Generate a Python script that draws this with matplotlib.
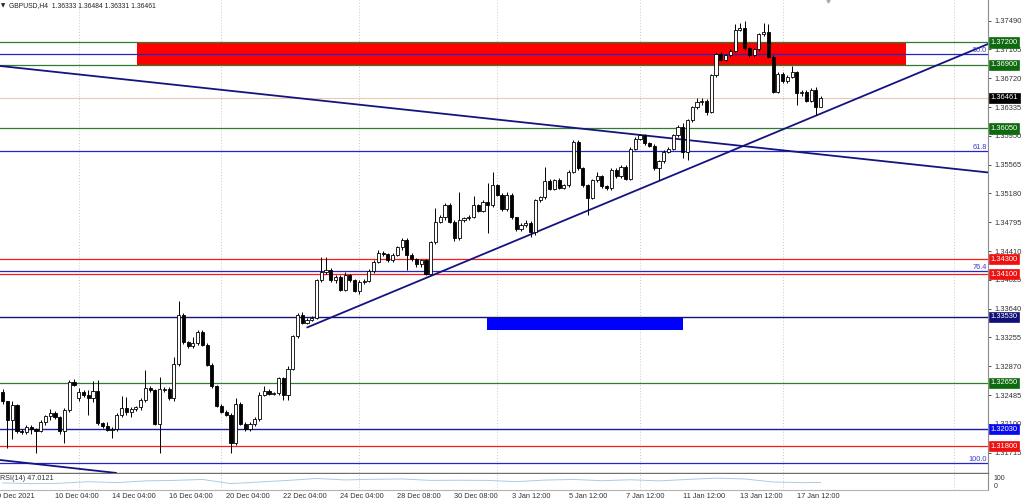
import numpy as np
import matplotlib
matplotlib.use("Agg")
import matplotlib.pyplot as plt
from matplotlib.patches import Rectangle

plt.rcParams['font.family'] = ['Liberation Sans', 'DejaVu Sans']

# GBPUSD H4 bars, first visible bar is index -11 (bar 0 = 10 Dec 04:00)
first_bar = -11
opens = [1.3252, 1.3240, 1.3215, 1.3235, 1.3200, 1.3199, 1.3206, 1.3203, 1.3201, 1.3212,
         1.3220, 1.3225, 1.3219, 1.3200, 1.3229, 1.3266, 1.3245, 1.3253, 1.3248, 1.3245,
         1.3254, 1.3211, 1.3207, 1.3202, 1.3203, 1.3222, 1.3231, 1.3226, 1.3230, 1.3232,
         1.3242, 1.3258, 1.3255, 1.3210, 1.3255, 1.3257, 1.3244, 1.3290, 1.3356, 1.3319,
         1.3314, 1.3318, 1.3333, 1.3316, 1.3289, 1.3260, 1.3234, 1.3226, 1.3222, 1.3184,
         1.3237, 1.3210, 1.3203, 1.3210, 1.3217, 1.3249, 1.3254, 1.3250, 1.3251, 1.3271,
         1.3249, 1.3284, 1.3327, 1.3356, 1.3345, 1.3349, 1.3352, 1.3402, 1.3413, 1.3416,
         1.3402, 1.3406, 1.3389, 1.3409, 1.3402, 1.3388, 1.3400, 1.3401, 1.3414, 1.3427,
         1.3438, 1.3437, 1.3429, 1.3436, 1.3446, 1.3456, 1.3436, 1.3430, 1.3424, 1.3429,
         1.3411, 1.3453, 1.3480, 1.3487, 1.3503, 1.3480, 1.3458, 1.3483, 1.3485, 1.3487,
         1.3502, 1.3495, 1.3507, 1.3502, 1.3529, 1.3516, 1.3497, 1.3516, 1.3486, 1.3470,
         1.3476, 1.3479, 1.3467, 1.3509, 1.3513, 1.3535, 1.3524, 1.3536, 1.3526, 1.3529,
         1.3547, 1.3587, 1.3552, 1.3529, 1.3512, 1.3536, 1.3541, 1.3528, 1.3525, 1.3550,
         1.3541, 1.3554, 1.3538, 1.3578, 1.3591, 1.3596, 1.3585, 1.3582, 1.3552, 1.3561,
         1.3574, 1.3578, 1.3596, 1.3607, 1.3573, 1.3616, 1.3633, 1.3640, 1.3642, 1.3627,
         1.3676, 1.3705, 1.3697, 1.3703, 1.3709, 1.3737, 1.3739, 1.3712, 1.3703, 1.3711,
         1.3731, 1.3734, 1.3701, 1.3654, 1.3678, 1.3668, 1.3674, 1.3680, 1.3652, 1.3654,
         1.3642, 1.3657, 1.36333]
highs = [1.3256, 1.3241, 1.3240, 1.3237, 1.3203, 1.3209, 1.3208, 1.3205, 1.3215, 1.3222,
         1.3230, 1.3227, 1.3221, 1.3231, 1.3269, 1.3270, 1.3258, 1.3255, 1.3255, 1.3267,
         1.3269, 1.3213, 1.3213, 1.3206, 1.3224, 1.3247, 1.3246, 1.3233, 1.3234, 1.3244,
         1.3282, 1.3261, 1.3257, 1.3273, 1.3259, 1.3259, 1.3300, 1.3374, 1.3358, 1.3321,
         1.3326, 1.3336, 1.3336, 1.3318, 1.3291, 1.3262, 1.3237, 1.3228, 1.3224, 1.3244,
         1.3239, 1.3212, 1.3212, 1.3219, 1.3252, 1.3260, 1.3256, 1.3253, 1.3273, 1.3273,
         1.3287, 1.3329, 1.3358, 1.3359, 1.3351, 1.3354, 1.3404, 1.3433, 1.3433, 1.3419,
         1.3409, 1.3409, 1.3413, 1.3411, 1.3404, 1.3403, 1.3404, 1.3417, 1.3429, 1.3442,
         1.3441, 1.3439, 1.3438, 1.3448, 1.3459, 1.3458, 1.3438, 1.3432, 1.3431, 1.3431,
         1.3455, 1.3498, 1.3489, 1.3505, 1.3505, 1.3482, 1.3520, 1.3487, 1.3489, 1.3514,
         1.3504, 1.3509, 1.3532, 1.3547, 1.3531, 1.3518, 1.3520, 1.3518, 1.3487, 1.3478,
         1.3482, 1.3481, 1.3511, 1.3515, 1.3554, 1.3538, 1.3538, 1.3539, 1.3531, 1.3549,
         1.3590, 1.3589, 1.3554, 1.3531, 1.3538, 1.3547, 1.3543, 1.3530, 1.3552, 1.3552,
         1.3556, 1.3556, 1.3580, 1.3593, 1.3598, 1.3598, 1.3587, 1.3584, 1.3563, 1.3576,
         1.3580, 1.3598, 1.3609, 1.3612, 1.3618, 1.3635, 1.3646, 1.3645, 1.3644, 1.3678,
         1.3707, 1.3707, 1.3705, 1.3711, 1.3745, 1.3746, 1.3748, 1.3714, 1.3713, 1.3733,
         1.3746, 1.3745, 1.3703, 1.3680, 1.3680, 1.3676, 1.3688, 1.3682, 1.3656, 1.3656,
         1.3659, 1.3660, 1.36484]
lows = [1.3237, 1.3178, 1.3190, 1.3198, 1.3196, 1.3196, 1.3197, 1.3171, 1.3199, 1.3209,
        1.3215, 1.3216, 1.3196, 1.3184, 1.3226, 1.3260, 1.3240, 1.3246, 1.3222, 1.3239,
        1.3209, 1.3205, 1.3200, 1.3191, 1.3201, 1.3219, 1.3222, 1.3219, 1.3227, 1.3229,
        1.3239, 1.3253, 1.3208, 1.3171, 1.3253, 1.3242, 1.3240, 1.3288, 1.3317, 1.3312,
        1.3312, 1.3316, 1.3314, 1.3287, 1.3258, 1.3232, 1.3224, 1.3220, 1.3171, 1.3182,
        1.3208, 1.3200, 1.3201, 1.3207, 1.3214, 1.3247, 1.3248, 1.3248, 1.3249, 1.3242,
        1.3242, 1.3282, 1.3325, 1.3343, 1.3343, 1.3347, 1.3350, 1.3400, 1.3411, 1.3400,
        1.3398, 1.3387, 1.3387, 1.3400, 1.3386, 1.3384, 1.3397, 1.3399, 1.3412, 1.3425,
        1.3434, 1.3427, 1.3427, 1.3434, 1.3443, 1.3416, 1.3428, 1.3420, 1.3420, 1.3409,
        1.3409, 1.3451, 1.3478, 1.3483, 1.3478, 1.3455, 1.3456, 1.3480, 1.3483, 1.3485,
        1.3493, 1.3493, 1.3465, 1.3500, 1.3514, 1.3495, 1.3495, 1.3484, 1.3468, 1.3468,
        1.3473, 1.3460, 1.3462, 1.3507, 1.3510, 1.3522, 1.3523, 1.3524, 1.3524, 1.3527,
        1.3545, 1.3550, 1.3527, 1.3489, 1.3510, 1.3534, 1.3526, 1.3523, 1.3523, 1.3539,
        1.3539, 1.3536, 1.3536, 1.3576, 1.3589, 1.3583, 1.3580, 1.3550, 1.3536, 1.3559,
        1.3572, 1.3576, 1.3594, 1.3565, 1.3563, 1.3614, 1.3631, 1.3636, 1.3623, 1.3625,
        1.3674, 1.3695, 1.3695, 1.3701, 1.3707, 1.3735, 1.3710, 1.3701, 1.3701, 1.3709,
        1.3729, 1.3699, 1.3652, 1.3652, 1.3666, 1.3666, 1.3672, 1.3636, 1.3648, 1.3640,
        1.3640, 1.3623, 1.36331]
closes = [1.3240, 1.3215, 1.3235, 1.3200, 1.3199, 1.3206, 1.3203, 1.3201, 1.3212, 1.3220,
          1.3225, 1.3219, 1.3200, 1.3229, 1.3266, 1.3262, 1.3253, 1.3248, 1.3245, 1.3254,
          1.3211, 1.3207, 1.3202, 1.3203, 1.3222, 1.3231, 1.3226, 1.3230, 1.3232, 1.3242,
          1.3258, 1.3255, 1.3210, 1.3257, 1.3257, 1.3244, 1.3290, 1.3356, 1.3319, 1.3314,
          1.3318, 1.3333, 1.3316, 1.3289, 1.3260, 1.3234, 1.3226, 1.3222, 1.3184, 1.3237,
          1.3210, 1.3203, 1.3210, 1.3217, 1.3249, 1.3254, 1.3250, 1.3251, 1.3271, 1.3249,
          1.3284, 1.3327, 1.3356, 1.3345, 1.3349, 1.3352, 1.3402, 1.3413, 1.3416, 1.3402,
          1.3406, 1.3389, 1.3409, 1.3402, 1.3388, 1.3400, 1.3401, 1.3414, 1.3427, 1.3438,
          1.3437, 1.3429, 1.3436, 1.3446, 1.3456, 1.3436, 1.3430, 1.3424, 1.3429, 1.3411,
          1.3453, 1.3480, 1.3487, 1.3503, 1.3480, 1.3458, 1.3483, 1.3485, 1.3487, 1.3502,
          1.3495, 1.3507, 1.3502, 1.3529, 1.3516, 1.3497, 1.3516, 1.3486, 1.3470, 1.3476,
          1.3479, 1.3467, 1.3509, 1.3513, 1.3535, 1.3524, 1.3536, 1.3526, 1.3529, 1.3547,
          1.3587, 1.3552, 1.3529, 1.3512, 1.3536, 1.3541, 1.3528, 1.3525, 1.3550, 1.3541,
          1.3554, 1.3538, 1.3578, 1.3591, 1.3596, 1.3585, 1.3582, 1.3552, 1.3561, 1.3574,
          1.3578, 1.3596, 1.3607, 1.3573, 1.3616, 1.3633, 1.3640, 1.3642, 1.3627, 1.3676,
          1.3705, 1.3697, 1.3703, 1.3709, 1.3737, 1.3739, 1.3712, 1.3703, 1.3711, 1.3731,
          1.3734, 1.3701, 1.3654, 1.3678, 1.3668, 1.3674, 1.3680, 1.3652, 1.3654, 1.3642,
          1.3657, 1.3634, 1.36461]

# RSI(14) sub window, read every 6 bars
rsi_bars = [-11, -5, 1, 7, 13, 19, 25, 31, 37, 43, 49, 55, 61, 67, 73,
            79, 85, 91, 97, 103, 109, 115, 121, 127, 133, 139, 145, 151, 157, 161]
rsi_values = [44, 40, 42, 52, 46, 57, 60, 66, 40, 50, 60, 72, 63, 67, 69,
              60, 61, 60, 52, 62, 66, 58, 64, 57, 66, 74, 69, 50, 46, 47]

price_ticks = [1.37490, 1.37105, 1.36720, 1.36335, 1.35950, 1.35565, 1.35180, 1.34795,
               1.34410, 1.34025, 1.33640, 1.33255, 1.32870, 1.32485, 1.32100, 1.31715]

time_labels = ["9 Dec 2021", "10 Dec 04:00", "14 Dec 04:00", "16 Dec 04:00", "20 Dec 04:00",
               "22 Dec 04:00", "24 Dec 04:00", "28 Dec 08:00", "30 Dec 08:00", "3 Jan 12:00",
               "5 Jan 12:00", "7 Jan 12:00", "11 Jan 12:00", "13 Jan 12:00", "17 Jan 12:00"]
time_label_bars = [-12.2, 0, 12, 24, 36, 48, 60, 72, 84, 96, 108, 120, 132, 144, 156]
grid_bars = [5, 35, 64, 93, 123, 153, 189]

# drawn objects
green_levels = [1.37200, 1.36900, 1.36050, 1.32650]
red_levels = [1.34300, 1.34100, 1.31800]
navy_level = 1.33530
blue_level = 1.32030
fib_names = ["50.0", "61.8", "76.4", "100.0"]
fib_prices = [1.37041, 1.35748, 1.34144, 1.31573]
red_zone = (17.2, 178.9, 1.36900, 1.37200)
blue_zone = (90.8, 132.0, 1.33350, 1.33530)
trend_up = ([52.9, 196.2], [1.33386, 1.37179])
trend_down = ([-11.56, 196.2], [1.36885, 1.35461])
trend_old = ([-11.56, 13.0], [1.31617, 1.31443])

bars = np.arange(first_bar, first_bar + len(closes))
o = np.array(opens); h = np.array(highs); l = np.array(lows); c = np.array(closes)

fig = plt.figure(figsize=(10.24, 5.0), dpi=100)
ax = fig.add_axes([0, 27 / 500, 988 / 1024, 473 / 500])
ax_rsi = fig.add_axes([0, 10 / 500, 988 / 1024, 16 / 500])

xmin, xmax = -11.56, 196.18
ax.set_xlim(xmin, xmax)
ax.set_ylim(1.314432, 1.377667)
ax_rsi.set_xlim(xmin, xmax)
ax_rsi.set_ylim(0, 100)

for gx in grid_bars:
    ax.axvline(gx, color='#C8C8C8', lw=0.7, ls=(0, (1, 2)), zorder=0)
    ax_rsi.axvline(gx, color='#C8C8C8', lw=0.7, ls=(0, (1, 2)), zorder=0)

# zones (background)
ax.add_patch(Rectangle((red_zone[0], red_zone[2]), red_zone[1] - red_zone[0],
                       red_zone[3] - red_zone[2], fc='#FF0000', ec='none', zorder=1))
ax.add_patch(Rectangle((blue_zone[0], blue_zone[2]), blue_zone[1] - blue_zone[0],
                       blue_zone[3] - blue_zone[2], fc='#0000FF', ec='none', zorder=1))

# horizontal levels
for lv in green_levels:
    ax.axhline(lv, color='#2E7D2E', lw=0.9, zorder=2)
for lv in red_levels:
    ax.axhline(lv, color='#FF1A1A', lw=0.9, zorder=2)
ax.axhline(navy_level, color='#12127A', lw=1.0, zorder=2)
ax.axhline(blue_level, color='#1C1CA0', lw=1.0, zorder=2)
ax.axhline(c[-1], color='#EBC9B5', lw=0.8, zorder=2)
for name, fp in zip(fib_names, fib_prices):
    ax.axhline(fp, color='#2424C8', lw=0.9, zorder=2)
    ax.text(0.999, fp + 0.00004, name, transform=ax.get_yaxis_transform(), ha='right',
            va='bottom', fontsize=5.3, color='#3A3AD8', zorder=6)

# trend lines
for tx, ty in (trend_up, trend_down, trend_old):
    ax.plot(tx, ty, color='#141480', lw=1.3, zorder=3, solid_capstyle='butt')

# candles
up = c >= o
ax.vlines(bars, l, h, color='black', lw=0.7, zorder=4)
body_low = np.minimum(o, c)
body_h = np.maximum(np.abs(c - o), 0.00004)
ax.bar(bars, body_h, bottom=body_low, width=0.66,
       color=np.where(up, 'white', 'black'), edgecolor='black', linewidth=0.6, zorder=5)

# axes styling
for side in ('top', 'left'):
    ax.spines[side].set_visible(False)
    ax_rsi.spines[side].set_visible(False)
ax.spines['right'].set_color('#8C8C8C')
ax.spines['bottom'].set_color('#6E6E6E')
ax.spines['bottom'].set_linewidth(1.0)
ax_rsi.spines['right'].set_color('#8C8C8C')
ax_rsi.spines['bottom'].set_color('#B4B4B4')
ax.tick_params(axis='x', bottom=False, labelbottom=False)
ax.yaxis.tick_right()
ax.set_yticks(price_ticks)
ax.set_yticklabels([f'{p:.5f}' for p in price_ticks])
ax.tick_params(axis='y', length=2, width=0.6, pad=2.5, labelsize=5.4,
               colors='#333333')

# level labels on price scale
def level_label(y, txt, bg):
    ax.text(1.0025, y, txt, transform=ax.get_yaxis_transform(), ha='left', va='center',
            fontsize=5.4, color='white', clip_on=False, zorder=10,
            bbox=dict(boxstyle='square,pad=0.22', fc=bg, ec=bg, lw=0.5))

for lv in green_levels:
    level_label(lv, f'{lv:.5f}', '#0E6A0E')
for lv in red_levels:
    level_label(lv, f'{lv:.5f}', '#F01010')
level_label(navy_level, f'{navy_level:.5f}', '#10107A')
level_label(blue_level, f'{blue_level:.5f}', '#0A0AF0')
level_label(c[-1], f'{c[-1]:.5f}', '#000000')

# title
ax.text(0.0015, 0.993, '\u25bc', transform=ax.transAxes, ha='left', va='top',
        fontsize=4, color='#222222', family=['DejaVu Sans'])
ax.text(0.009, 0.995, f'GBPUSD,H4  {o[-1]:.5f} {h[-1]:.5f} {l[-1]:.5f} {c[-1]:.5f}',
        transform=ax.transAxes, ha='left', va='top', fontsize=4.9, color='#222222')
# chart shift marker
ax.plot([162.5], [1.377667], marker='v', ms=3.5, color='#A8A8A8', clip_on=False, zorder=6)

# RSI window
ax_rsi.plot(rsi_bars, rsi_values, color='#A8CDE8', lw=0.7)
ax_rsi.text(0.0, 0.93, f'RSI(14) {47.0121:.4f}', transform=ax_rsi.transAxes, ha='left',
            va='top', fontsize=5.2, color='#333333')
ax_rsi.yaxis.tick_right()
ax_rsi.set_yticks([75, 25])
ax_rsi.set_yticklabels(['100', '0'])
ax_rsi.tick_params(axis='y', length=0, pad=4, labelsize=5.0, colors='#333333')
ax_rsi.tick_params(axis='x', bottom=False, labelbottom=False)

for tb, tl in zip(time_label_bars, time_labels):
    ax_rsi.text(tb, -0.38, tl, transform=ax_rsi.get_xaxis_transform(), ha='left',
                va='center', fontsize=5.3, color='#333333', clip_on=False)

fig.savefig('out.png', dpi=100, facecolor='white')
